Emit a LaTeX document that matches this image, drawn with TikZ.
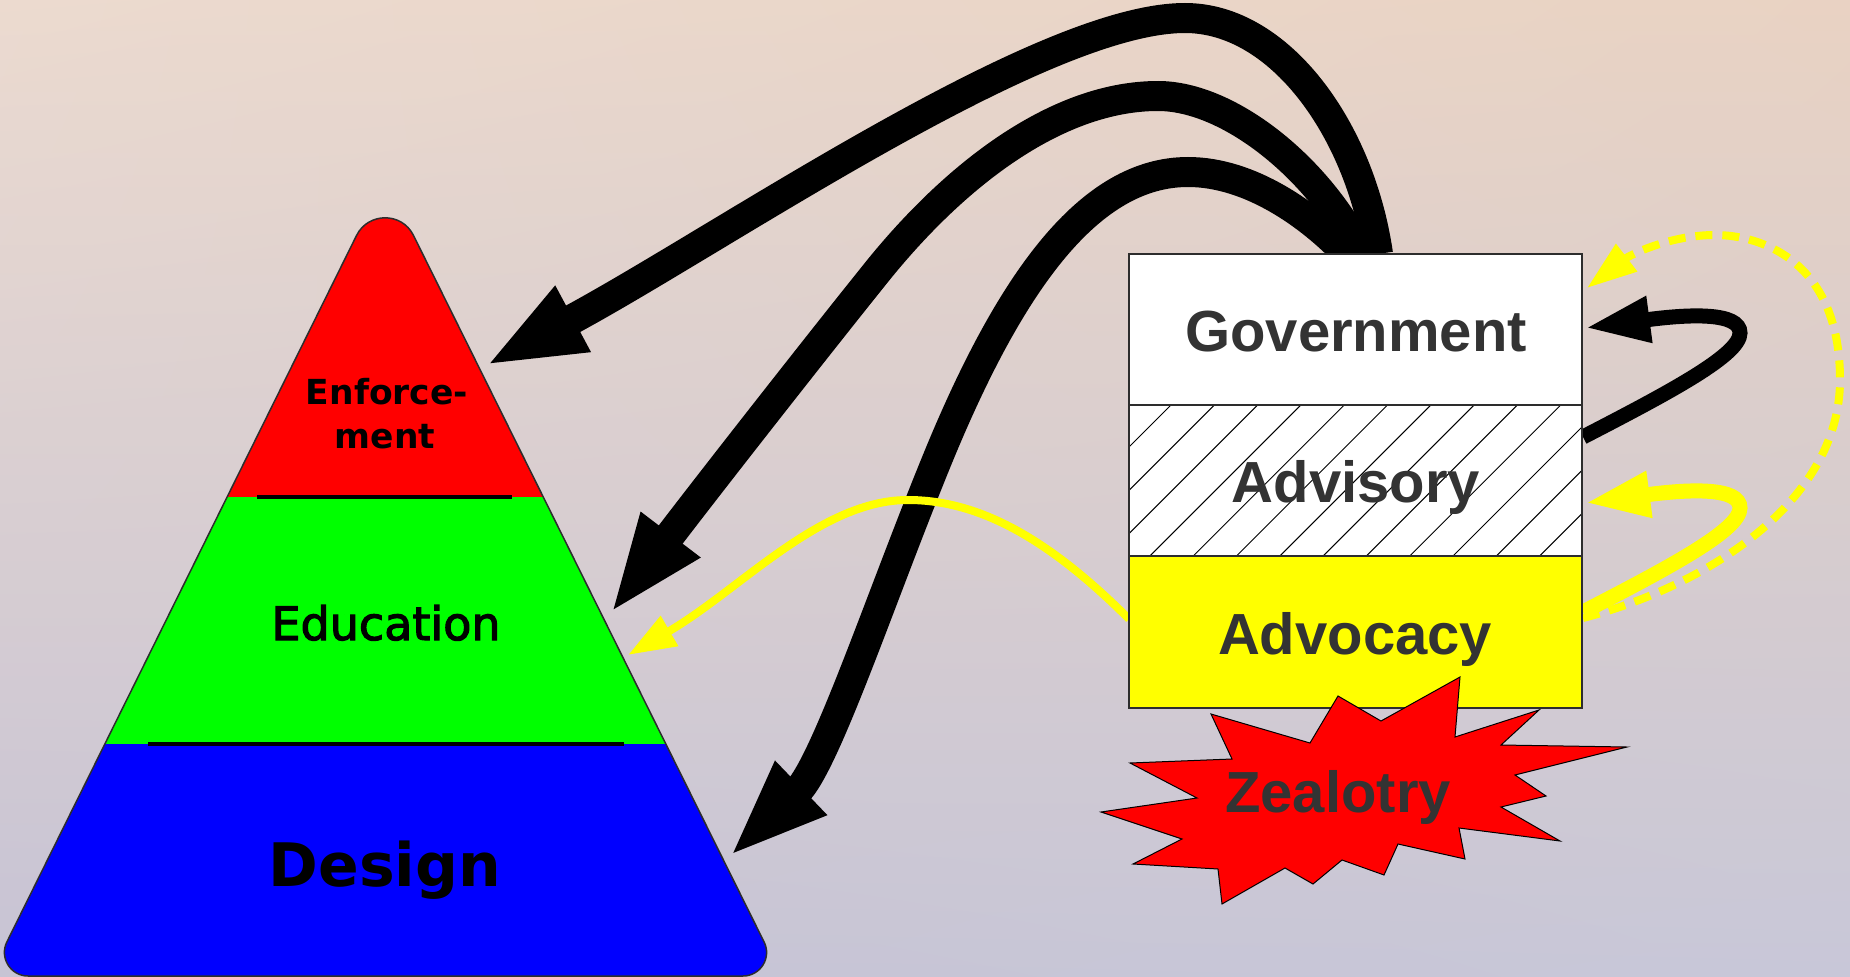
\documentclass[tikz,border=0pt]{standalone}
\usepackage{fontspec}
\setmainfont{DejaVu Sans}
\newfontfamily\dejavu{DejaVu Sans}
\newfontfamily\dejavumid{DejaVu Sans}[FakeBold=2.5]
\newfontfamily\libsans{Liberation Sans}
\usetikzlibrary{arrows.meta,shadings}
\definecolor{txtgrey}{RGB}{51,51,51}
\definecolor{bgtop}{RGB}{234,210,196}
\definecolor{bgmid}{RGB}{222,194,194}
\definecolor{bgbot}{RGB}{200,196,212}
\definecolor{bgul}{RGB}{239,228,220}
\definecolor{bgur}{RGB}{232,212,194}
\definecolor{bgll}{RGB}{198,196,214}
\definecolor{bglr}{RGB}{200,204,222}
\definecolor{pyrred}{RGB}{255,0,0}
\definecolor{pyrgreen}{RGB}{0,255,0}
\definecolor{pyrblue}{RGB}{0,0,255}
\definecolor{brightyellow}{RGB}{255,255,0}
\definecolor{edgegrey}{RGB}{45,45,45}
\begin{document}
\begin{tikzpicture}[x=1pt,y=-1pt,
  bigarrow/.style={line width=30pt,black,-{Triangle[length=100pt,width=67pt]}},
  loopblack/.style={line width=15pt,black,-{Triangle[length=65pt,width=43pt]}},
  loopyellow/.style={line width=15pt,brightyellow,-{Triangle[length=65pt,width=43pt]}},
  dashyellow/.style={line width=8pt,brightyellow,dash pattern=on 17pt off 10pt,-{Triangle[length=50pt,width=33pt]}},
  thinyellow/.style={line width=8pt,brightyellow,-{Triangle[length=48pt,width=33pt]}},
  boxsec/.style={draw=edgegrey,line width=1.5pt,minimum width=453pt,inner sep=0pt,outer sep=0pt,anchor=north west},
  boxtext/.style={font=\libsans\bfseries\fontsize{58}{60}\selectfont,text=txtgrey,anchor=base},
  pyrtext/.style={font=\dejavumid\fontsize{46}{50}\selectfont,text=black,anchor=base},
  pyrbold/.style={font=\dejavu\bfseries\fontsize{60}{64}\selectfont,text=black,anchor=base},
  pyrsmall/.style={font=\dejavu\bfseries\fontsize{34.5}{44}\selectfont,text=black,anchor=base},
  bandline/.style={line width=4.5pt,black}
]
\useasboundingbox (0,0) rectangle (1850,977);
% background
\shade[upper left=bgul,upper right=bgur,lower left=bgll,lower right=bglr] (0,0) rectangle (1850,977);
\shade[top color=bgtop,middle color=bgmid,bottom color=bgbot,opacity=0.5] (0,0) rectangle (1850,977);

% pyramid
\def\pyrpath{(28,976) -- (743,976) .. controls (760.5,976) and (771.9,957.6) .. (764.1,942)
  -- (413.4,235.3) .. controls (401.8,211.9) and (368.2,212.0) .. (356.6,235.4)
  -- (6.9,941.9) .. controls (-0.9,957.5) and (10.5,976) .. (28,976) -- cycle}
\begin{scope}
  \clip \pyrpath;
  \fill[pyrred] (-20,150) rectangle (800,497);
  \fill[pyrgreen] (-20,497) rectangle (800,744);
  \fill[pyrblue] (-20,744) rectangle (800,990);
\end{scope}
\draw[edgegrey,line width=1.5pt] \pyrpath;
\draw[bandline] (257,497) -- (512,497);
\draw[bandline] (148,744) -- (624,744);
\node[pyrsmall] (enf1) at (387,404) {Enforce-};
\node[pyrsmall] (enf2) at (385,448) {ment};
\node[pyrtext] (edu) at (386,640) {Education};
\node[pyrbold] (des) at (385,886) {Design};

% named end points
\coordinate (g1) at (1378,254);
\coordinate (g2) at (1361,254);
\coordinate (g3) at (1347,254);
\coordinate (top1) at (1185,18);
\coordinate (top2) at (1158,96);
\coordinate (top3) at (1188,172);
\coordinate (tEnf) at (485,366);
\coordinate (tEdu) at (610,614);
\coordinate (tDes) at (729,857);
\coordinate (ys) at (1129,619);
\coordinate (tEduY) at (628,655);
\coordinate (bl1) at (1583,437);
\coordinate (bl2) at (1585,328);
\coordinate (yl1) at (1583,612);
\coordinate (yl2) at (1585,503);
\coordinate (yd1) at (1583,618);
\coordinate (yd2) at (1587,288);

% black arrows
\draw[bigarrow] (g1) .. controls (1360,130) and (1280,18) .. (top1)
  .. controls (1040,18) and (720,240) .. (tEnf);
\draw[bigarrow] (g2) .. controls (1320,170) and (1230,96) .. (top2)
  .. controls (1060,96) and (960,170) .. (880,268)
  .. controls (830,330) and (720,470) .. (tEdu);
\draw[bigarrow] (g3) .. controls (1310,215) and (1250,172) .. (top3)
  .. controls (1090,172) and (1010,280) .. (935,465)
  .. controls (880,600) and (825,765) .. (tDes);

% yellow thin arrow
\draw[thinyellow] (ys) .. controls (1050,540) and (980,500) .. (908,500)
  .. controls (820,500) and (740,590) .. (tEduY);

% right loops
\draw[dashyellow] (yd1) .. controls (1710,585) and (1840,500) .. (1840,380)
  .. controls (1840,260) and (1760,235) .. (1715,235)
  .. controls (1670,235) and (1630,255) .. (yd2);
\draw[loopblack] (bl1) .. controls (1670,392) and (1740,355) .. (1740,333)
  .. controls (1740,312) and (1690,314) .. (bl2);
\draw[loopyellow] (yl1) .. controls (1670,567) and (1740,530) .. (1740,508)
  .. controls (1740,487) and (1690,489) .. (yl2);

% box
\node[boxsec,fill=white,minimum height=151pt] (gov) at (1129,254) {};
\node[boxsec,fill=white,minimum height=151pt] (adv) at (1129,405) {};
\begin{scope}
  \clip (adv.north west) rectangle (adv.south east);
  \foreach \k in {-1,...,14}
    \draw[line width=1pt,black] ({1576+43.3*\k-405},405) -- ({1576+43.3*\k-556},556);
\end{scope}
\draw[edgegrey,line width=1.5pt] (adv.north west) rectangle (adv.south east);
\node[boxsec,fill=brightyellow,minimum height=152pt] (advo) at (1129,556) {};
\node[boxtext] (govt) at (1356,351) {Government};
\node[boxtext] (advt) at (1356,502) {Advisory};
\node[boxtext] (advot) at (1355,654) {Advocacy};

% zealotry star
\draw[fill=pyrred,draw=black,line width=1pt]
  (1211,714) -- (1310,743) -- (1338,696) -- (1381,721) -- (1460,677) -- (1455,737)
  -- (1539,710) -- (1501,745) -- (1627,747) -- (1515,775) -- (1546,796) -- (1501,807)
  -- (1560,841) -- (1459,828) -- (1465,859) -- (1398,844) -- (1384,875) -- (1342,860)
  -- (1313,884) -- (1285,868) -- (1222,904) -- (1218,869) -- (1133,864) -- (1182,839)
  -- (1101,812) -- (1197,798) -- (1130,763) -- (1232,759) -- cycle;
\node[boxtext] (zeal) at (1338,812) {Zealotry};
\end{tikzpicture}
\end{document}
